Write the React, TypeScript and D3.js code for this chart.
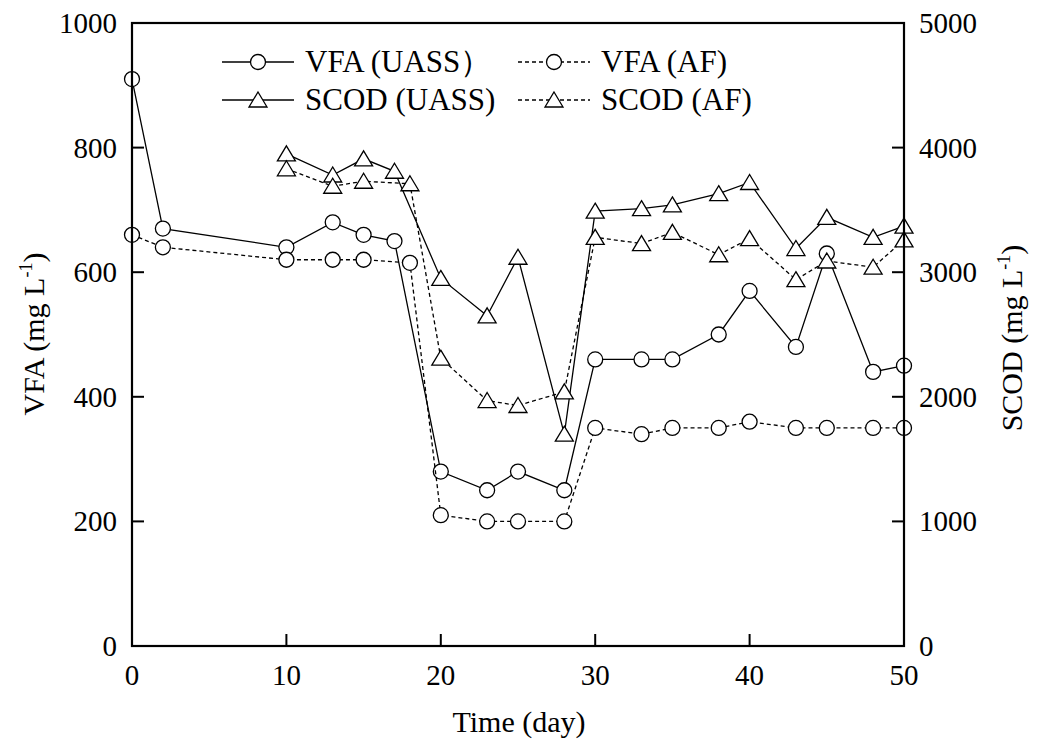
import React from 'react';
import * as d3 from 'd3';

// days + values
const vfaUassDays = [0, 2, 10, 13, 15, 17, 20, 23, 25, 28, 30, 33, 35, 38, 40, 43, 45, 48, 50];
const vfaUass = [910, 670, 640, 680, 660, 650, 280, 250, 280, 250, 460, 460, 460, 500, 570, 480, 630, 440, 450];
const vfaAfDays = [0, 2, 10, 13, 15, 18, 20, 23, 25, 28, 30, 33, 35, 38, 40, 43, 45, 48, 50];
const vfaAf = [660, 640, 620, 620, 620, 615, 210, 200, 200, 200, 350, 340, 350, 350, 360, 350, 350, 350, 350];
const scodUassDays = [10, 13, 15, 17, 20, 23, 25, 28, 30, 33, 35, 38, 40, 43, 45, 48, 50];
const scodUass = [3950, 3780, 3910, 3810, 2950, 2650, 3120, 1700, 3490, 3510, 3540, 3630, 3720, 3190, 3440, 3280, 3370];
const scodAfDays = [10, 13, 15, 18, 20, 23, 25, 28, 30, 33, 35, 38, 40, 43, 45, 48, 50];
const scodAf = [3830, 3690, 3730, 3710, 2310, 1970, 1930, 2040, 3280, 3230, 3320, 3140, 3270, 2940, 3090, 3040, 3260];

const xTicks = [0, 10, 20, 30, 40, 50];
const leftTicks = [0, 200, 400, 600, 800, 1000];
const rightTicks = [0, 1000, 2000, 3000, 4000, 5000];

const W = 1037;
const H = 751;
const FONT = '"Liberation Serif", "Times New Roman", serif';

const x = d3.scaleLinear().domain([0, 50]).range([132, 904]);
const yL = d3.scaleLinear().domain([0, 1000]).range([646, 23]);
const yR = d3.scaleLinear().domain([0, 5000]).range([646, 23]);

const triPath = 'M0,-8 L9,7 L-9,7 Z';

type Pt = [number, number];

function Series({ pts, dashed, marker }: { pts: Pt[]; dashed: boolean; marker: 'circle' | 'tri' }) {
  const line = d3.line<Pt>().x(d => d[0]).y(d => d[1]);
  return (
    <g>
      <path d={line(pts) || ''} fill="none" stroke="#000" strokeWidth={1.3}
        strokeDasharray={dashed ? '4,3' : undefined} />
      {pts.map((p, i) =>
        marker === 'circle'
          ? <circle key={i} cx={p[0]} cy={p[1]} r={7.5} fill="#fff" stroke="#000" strokeWidth={1.3} />
          : <path key={i} d={triPath} transform={`translate(${p[0]},${p[1]})`} fill="#fff" stroke="#000" strokeWidth={1.3} />
      )}
    </g>
  );
}

function LegendItem({ lx, ly, dashed, marker, label }: { lx: number; ly: number; dashed: boolean; marker: 'circle' | 'tri'; label: string }) {
  return (
    <g>
      <line x1={lx} x2={lx + 72} y1={ly} y2={ly} stroke="#000" strokeWidth={1.3} strokeDasharray={dashed ? '4,3' : undefined} />
      {marker === 'circle'
        ? <circle cx={lx + 36} cy={ly} r={7.5} fill="#fff" stroke="#000" strokeWidth={1.3} />
        : <path d={triPath} transform={`translate(${lx + 36},${ly})`} fill="#fff" stroke="#000" strokeWidth={1.3} />}
      <text x={lx + 83} y={ly + 10} fontSize={31}>{label}</text>
    </g>
  );
}

export default function App() {
  const vfaU: Pt[] = vfaUassDays.map((d, i) => [x(d), yL(vfaUass[i])]);
  const vfaA: Pt[] = vfaAfDays.map((d, i) => [x(d), yL(vfaAf[i])]);
  const scodU: Pt[] = scodUassDays.map((d, i) => [x(d), yR(scodUass[i])]);
  const scodA: Pt[] = scodAfDays.map((d, i) => [x(d), yR(scodAf[i])]);

  const [x0, x1] = x.range();
  const [yb, yt] = yL.range();

  return (
    <svg width={W} height={H} style={{ position: 'absolute', left: 0, top: 0, background: '#fff' }}
      fontFamily={FONT} fill="#000">
      <rect width={W} height={H} fill="#fff" />

      <Series pts={vfaU} dashed={false} marker="circle" />
      <Series pts={vfaA} dashed={true} marker="circle" />
      <Series pts={scodU} dashed={false} marker="tri" />
      <Series pts={scodA} dashed={true} marker="tri" />

      {/* frame */}
      <rect x={x0} y={yt} width={x1 - x0} height={yb - yt} fill="none" stroke="#000" strokeWidth={2.2} />

      {/* x ticks */}
      {xTicks.map(t => (
        <g key={t}>
          {t > 0 && t < 50 && <line x1={x(t)} x2={x(t)} y1={yb} y2={yb - 12} stroke="#000" strokeWidth={2} />}
          <text x={x(t)} y={685} fontSize={29} textAnchor="middle">{t}</text>
        </g>
      ))}
      {/* left ticks */}
      {leftTicks.map(t => (
        <g key={t}>
          {t > 0 && t < 1000 && <line x1={x0} x2={x0 + 12} y1={yL(t)} y2={yL(t)} stroke="#000" strokeWidth={2} />}
          <text x={117} y={yL(t) + 10} fontSize={29} textAnchor="end">{t}</text>
        </g>
      ))}
      {/* right ticks */}
      {rightTicks.map(t => (
        <g key={t}>
          {t > 0 && t < 5000 && <line x1={x1} x2={x1 - 12} y1={yR(t)} y2={yR(t)} stroke="#000" strokeWidth={2} />}
          <text x={919} y={yR(t) + 10} fontSize={29} textAnchor="start">{t}</text>
        </g>
      ))}

      {/* axis titles */}
      <text x={519} y={732} fontSize={30} textAnchor="middle">Time (day)</text>
      <text transform="translate(44,334) rotate(-90)" fontSize={30} textAnchor="middle">
        VFA (mg L<tspan fontSize={18} dy={-12}>-1</tspan><tspan dy={12}>)</tspan>
      </text>
      <text transform="translate(1022,338) rotate(-90)" fontSize={30} textAnchor="middle">
        SCOD (mg L<tspan fontSize={18} dy={-12}>-1</tspan><tspan dy={12}>)</tspan>
      </text>

      {/* legend */}
      <LegendItem lx={222} ly={62} dashed={false} marker="circle" label="VFA (UASS）" />
      <LegendItem lx={518} ly={62} dashed={true} marker="circle" label="VFA (AF)" />
      <LegendItem lx={222} ly={100} dashed={false} marker="tri" label="SCOD (UASS)" />
      <LegendItem lx={518} ly={100} dashed={true} marker="tri" label="SCOD (AF)" />
    </svg>
  );
}
